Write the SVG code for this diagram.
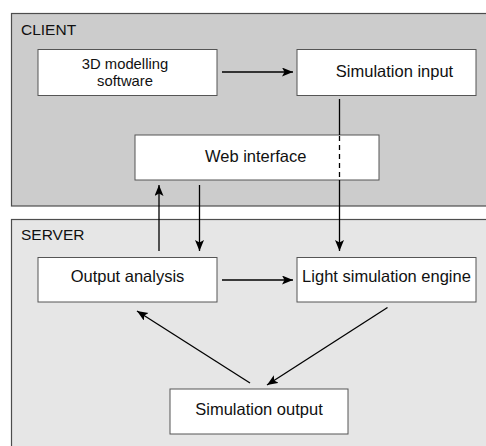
<svg xmlns="http://www.w3.org/2000/svg" width="486" height="446" viewBox="0 0 486 446">
<style>
.panel{stroke:#4d4d4d;stroke-width:1.2}
.box{fill:#ffffff;stroke:#555555;stroke-width:1}
text{font-family:"Liberation Sans",Arial,sans-serif;fill:#111111}
.lbl{font-size:16.5px;text-anchor:middle}
.lbl2{font-size:14.8px;text-anchor:middle}
.ttl{font-size:15.5px}
.conn{stroke:#000;stroke-width:1.3;fill:none}
</style>
<defs>
<marker id="ah" markerUnits="userSpaceOnUse" markerWidth="12" markerHeight="10" refX="11" refY="4.5" orient="auto">
<path d="M0,0 L11,4.5 L0,9 L2.5,4.5 z" fill="#000"/>
</marker>
</defs>
<rect width="486" height="446" fill="#ffffff"/>
<g id="client">
<rect class="panel" x="11.5" y="13.5" width="480" height="192.5" fill="#cccccc"/>
<text class="ttl" x="21" y="35">CLIENT</text>
</g>
<g id="server">
<rect class="panel" x="11.5" y="219.5" width="480" height="240" fill="#e6e6e6"/>
<text class="ttl" x="21" y="239.5">SERVER</text>
</g>
<g id="modelling">
<rect class="box" x="38" y="49.5" width="179" height="46"/>
<text class="lbl2" x="125" y="68.5">3D modelling</text>
<text class="lbl2" x="125" y="85.5">software</text>
</g>
<g id="siminput">
<rect class="box" x="297" y="49.5" width="179" height="46"/>
<text class="lbl" x="394.5" y="76.7">Simulation input</text>
</g>
<g id="webinterface">
<rect class="box" x="135" y="135" width="244" height="45"/>
<text class="lbl" x="255.7" y="161.5">Web interface</text>
</g>
<g id="outputanalysis">
<rect class="box" x="38" y="257.5" width="179" height="44.5"/>
<text class="lbl" x="127.5" y="281.5">Output analysis</text>
</g>
<g id="lightengine">
<rect class="box" x="297" y="257.5" width="179" height="44.5"/>
<text class="lbl" x="386.5" y="281.5">Light simulation engine</text>
</g>
<g id="simoutput">
<rect class="box" x="170" y="389" width="178" height="45"/>
<text class="lbl" x="259" y="415">Simulation output</text>
</g>
<g id="connectors">
<line class="conn" x1="222" y1="72" x2="293" y2="72" marker-end="url(#ah)"/>
<line class="conn" x1="339.5" y1="99" x2="339.5" y2="135"/>
<line class="conn" x1="339.5" y1="136" x2="339.5" y2="180" stroke-dasharray="5,4"/>
<line class="conn" x1="339.5" y1="180" x2="339.5" y2="251" marker-end="url(#ah)"/>
<line class="conn" x1="159" y1="251" x2="159" y2="185" marker-end="url(#ah)"/>
<line class="conn" x1="199.5" y1="185" x2="199.5" y2="251" marker-end="url(#ah)"/>
<line class="conn" x1="222" y1="280" x2="293" y2="280" marker-end="url(#ah)"/>
<line class="conn" x1="387.5" y1="307.5" x2="267" y2="385" marker-end="url(#ah)"/>
<line class="conn" x1="250" y1="383" x2="137" y2="311" marker-end="url(#ah)"/>
</g>
</svg>
